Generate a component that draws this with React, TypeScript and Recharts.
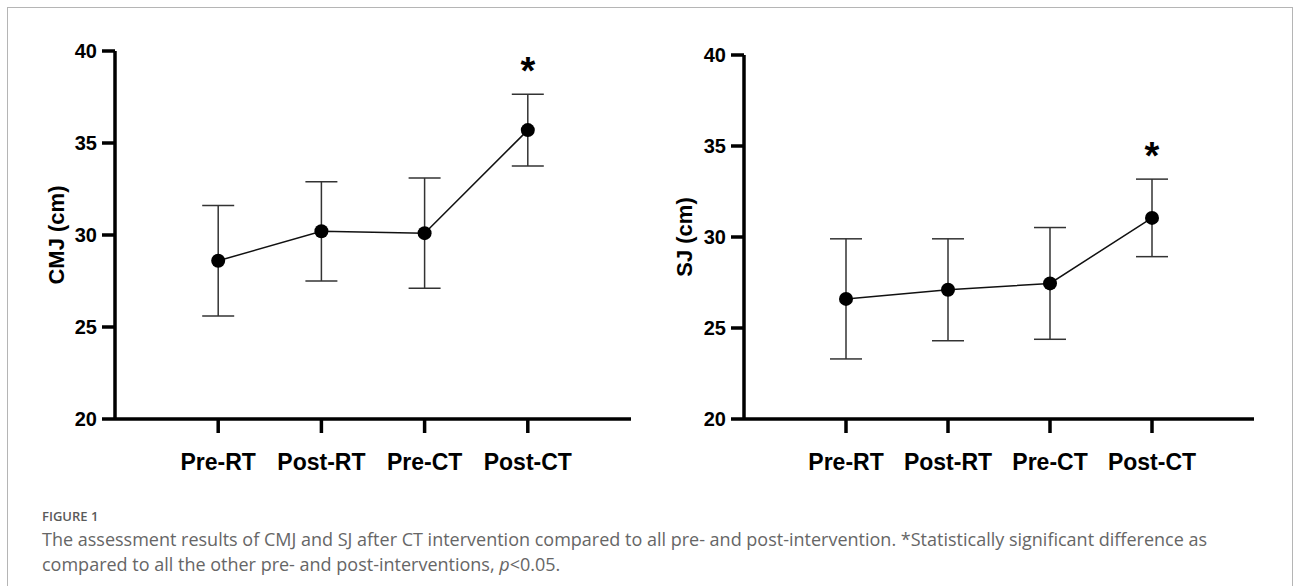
import React from 'react';
import { ComposedChart, Line, Scatter, XAxis, YAxis, ErrorBar } from 'recharts';

const categories = ['Pre-RT', 'Post-RT', 'Pre-CT', 'Post-CT'];
const categoryPositions = [1, 2, 3, 4];
const cmjMean = [28.6, 30.2, 30.1, 35.7];
const cmjSD = [3.0, 2.7, 3.0, 1.95];
const sjMean = [26.6, 27.1, 27.45, 31.05];
const sjSD = [3.3, 2.8, 3.07, 2.13];
const significant = [false, false, false, true];
const yTicks = [20, 25, 30, 35, 40];

const FONT = "'Liberation Sans', Arial, Helvetica, sans-serif";

type PanelProps = {
  means: number[];
  sds: number[];
  title: string;
  left: number;
  width: number;
  yAxisWidth: number;
  marginTop: number;
  marginRight: number;
  titleX: number;
};

function Panel(p: PanelProps) {
  const data = categoryPositions.map((x, i) => ({ x, mean: p.means[i], sd: p.sds[i] }));
  const stars = categoryPositions
    .map((x, i) => ({ x, top: p.means[i] + p.sds[i], sig: significant[i] }))
    .filter((d) => d.sig);
  const height = 480;
  return (
    <div style={{ position: 'absolute', left: p.left, top: 0, width: p.width, height }}>
      <ComposedChart
        width={p.width}
        height={height}
        data={data}
        margin={{ top: p.marginTop, right: p.marginRight, bottom: 0, left: 0 }}
      >
        <XAxis
          dataKey="x"
          type="number"
          domain={[0, 5]}
          ticks={categoryPositions}
          tickFormatter={(v: number) => categories[v - 1]}
          height={61}
          tickSize={14}
          tickMargin={21}
          axisLine={{ stroke: '#000', strokeWidth: 3.5 }}
          tickLine={{ stroke: '#000', strokeWidth: 3.5 }}
          tick={{ fill: '#000', fontSize: 23, fontWeight: 700, fontFamily: FONT }}
          interval={0}
          allowDataOverflow
        />
        <YAxis
          type="number"
          domain={[20, 40]}
          ticks={yTicks}
          width={p.yAxisWidth}
          tickSize={13}
          tickMargin={5}
          axisLine={{ stroke: '#000', strokeWidth: 3.5 }}
          tickLine={{ stroke: '#000', strokeWidth: 3.5 }}
          tick={{ fill: '#000', fontSize: 20, fontWeight: 700, fontFamily: FONT }}
          interval={0}
          label={(props: any) => {
            const vb = props.viewBox || {};
            const cy = (vb.y || 0) + (vb.height || 0) / 2;
            return (
              <text
                x={p.titleX}
                y={cy}
                transform={`rotate(-90, ${p.titleX}, ${cy})`}
                textAnchor="middle"
                dominantBaseline="central"
                fontSize={22}
                fontWeight={700}
                fontFamily={FONT}
                fill="#000"
              >
                {p.title}
              </text>
            );
          }}
        />
        <Line
          dataKey="mean"
          stroke="#111"
          strokeWidth={1.5}
          isAnimationActive={false}
          dot={{ r: 7, fill: '#000', stroke: '#000', strokeWidth: 0 }}
          activeDot={false}
        >
          <ErrorBar dataKey="sd" width={16} stroke="#333" strokeWidth={1.5} direction="y" />
        </Line>
        <Scatter
          data={stars}
          dataKey="top"
          isAnimationActive={false}
          shape={(s: any) => (
            <text
              x={s.cx}
              y={s.cy - 10}
              textAnchor="middle"
              fontSize={38}
              fontWeight={700}
              fontFamily={FONT}
              fill="#000"
            >
              *
            </text>
          )}
        />
      </ComposedChart>
    </div>
  );
}

export default function App() {
  return (
    <div
      style={{
        position: 'absolute',
        left: 0,
        top: 0,
        width: 1293,
        height: 586,
        overflow: 'hidden',
        background: '#fff',
      }}
    >
      <div
        style={{
          position: 'absolute',
          left: 7,
          top: 7,
          width: 1284,
          height: 640,
          border: '1px solid #b5b5b5',
          borderBottom: 'none',
        }}
      />
      <Panel
        means={cmjMean}
        sds={cmjSD}
        title="CMJ (cm)"
        left={0}
        width={660}
        yAxisWidth={115}
        marginTop={51}
        marginRight={29}
        titleX={56}
      />
      <Panel
        means={sjMean}
        sds={sjSD}
        title="SJ (cm)"
        left={640}
        width={653}
        yAxisWidth={104}
        marginTop={55}
        marginRight={39}
        titleX={44}
      />
      <div
        style={{
          position: 'absolute',
          left: 42,
          top: 507,
          fontFamily: "'Open Sans', sans-serif",
          fontSize: 13,
          lineHeight: '18px',
          fontWeight: 600,
          color: '#5a5a5a',
          whiteSpace: 'nowrap',
        }}
      >
        FIGURE 1
      </div>
      <div
        style={{
          position: 'absolute',
          left: 42,
          top: 527,
          fontFamily: "'Open Sans', sans-serif",
          fontSize: 18,
          lineHeight: '25px',
          color: '#666',
          whiteSpace: 'nowrap',
        }}
      >
        <div>
          The assessment results of CMJ and SJ after CT intervention compared to all pre- and post-intervention. *Statistically significant difference as
        </div>
        <div>
          compared to all the other pre- and post-interventions, <i>p</i>&lt;0.05.
        </div>
      </div>
    </div>
  );
}
